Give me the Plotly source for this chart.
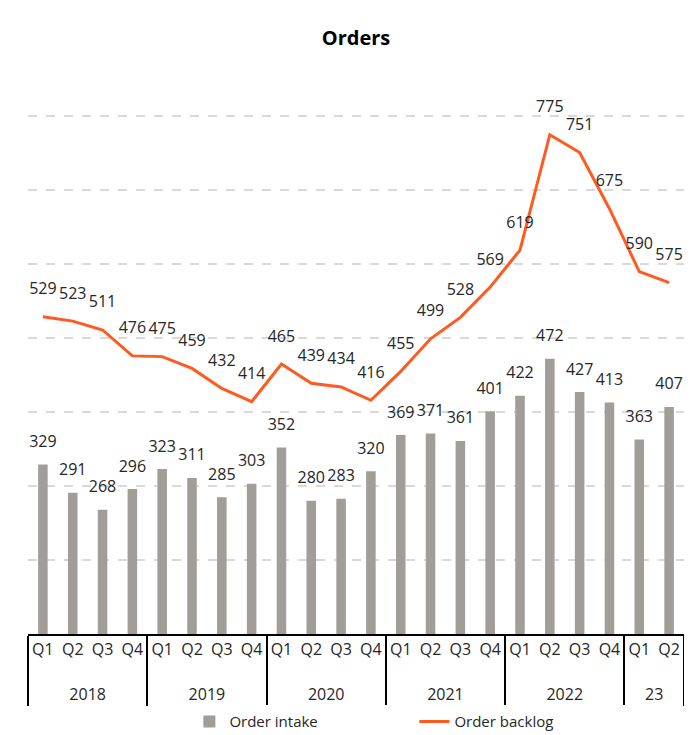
import plotly.graph_objects as go

years = ["2018"] * 4 + ["2019"] * 4 + ["2020"] * 4 + ["2021"] * 4 + ["2022"] * 4 + ["23"] * 2
quarters = ["Q1", "Q2", "Q3", "Q4"] * 5 + ["Q1", "Q2"]
orders = [329, 291, 268, 296, 323, 311, 285, 303, 352, 280, 283, 320,
          369, 371, 361, 401, 422, 472, 427, 413, 363, 407]
backlog = [529, 523, 511, 476, 475, 459, 432, 414, 465, 439, 434, 416,
           455, 499, 528, 569, 619, 775, 751, 675, 590, 575]

FONT = "Open Sans"
AXIS_MIN = 100

# year row pushed one line lower to mimic the table-style axis
year_labels = ["<br>" + y for y in years]
xcat = [year_labels, quarters]

fig = go.Figure()
fig.add_trace(go.Bar(
    x=xcat, y=[v - AXIS_MIN for v in orders], base=AXIS_MIN,
    name="Order intake",
    marker=dict(color="#A19E99", line=dict(width=0)),
    width=0.32, hoverinfo="skip",
))
# value labels for the bars
fig.add_trace(go.Scatter(
    x=xcat, y=orders, mode="markers+text", showlegend=False,
    marker=dict(size=20, color="rgba(0,0,0,0)"),
    text=[str(v) for v in orders], textposition="top center",
    textfont=dict(family=FONT, size=16, color="#262626"),
    cliponaxis=False, hoverinfo="skip",
))
fig.add_trace(go.Scatter(
    x=xcat, y=backlog, name="Order backlog",
    mode="lines", line=dict(color="#FF5A1F", width=3),
    cliponaxis=False,
))
fig.add_trace(go.Scatter(
    x=xcat, y=backlog, mode="markers+text", showlegend=False,
    marker=dict(size=28, color="rgba(0,0,0,0)"),
    text=[str(v) for v in backlog], textposition="top center",
    textfont=dict(family=FONT, size=16, color="#262626"),
    cliponaxis=False, hoverinfo="skip",
))

W, H = 684, 727
fig.update_layout(
    width=W, height=H,
    margin=dict(l=20, r=8, t=106, b=H - 626, autoexpand=False),
    paper_bgcolor="white", plot_bgcolor="white",
    title=dict(text="<b>Orders</b>", x=0.5, xref="paper", y=1 - 30 / H,
               yref="container", yanchor="middle",
               font=dict(family=FONT, size=20, color="black")),
    font=dict(family=FONT, size=14, color="#262626"),
    showlegend=True,
    legend=dict(orientation="h", x=0.246, xanchor="left", y=-0.137, yanchor="top",
                entrywidth=180, font=dict(family=FONT, size=15)),
)
fig.update_xaxes(
    type="multicategory", range=[-0.5, 21.5],
    showline=True, linecolor="black", linewidth=1.5,
    showdividers=True, dividercolor="black", dividerwidth=1.5,
    tickfont=dict(family=FONT, size=16, color="#262626"), tickangle=0,
    ticks="", showgrid=False, automargin=False,
)
fig.update_yaxes(
    range=[AXIS_MIN, 803], tickvals=[200, 300, 400, 500, 600, 700, 800],
    showticklabels=False,
    showgrid=True, gridcolor="#D9D9D9", gridwidth=2, griddash="dash",
    zeroline=False, showline=False, automargin=False,
)
fig.write_html("out.html")
